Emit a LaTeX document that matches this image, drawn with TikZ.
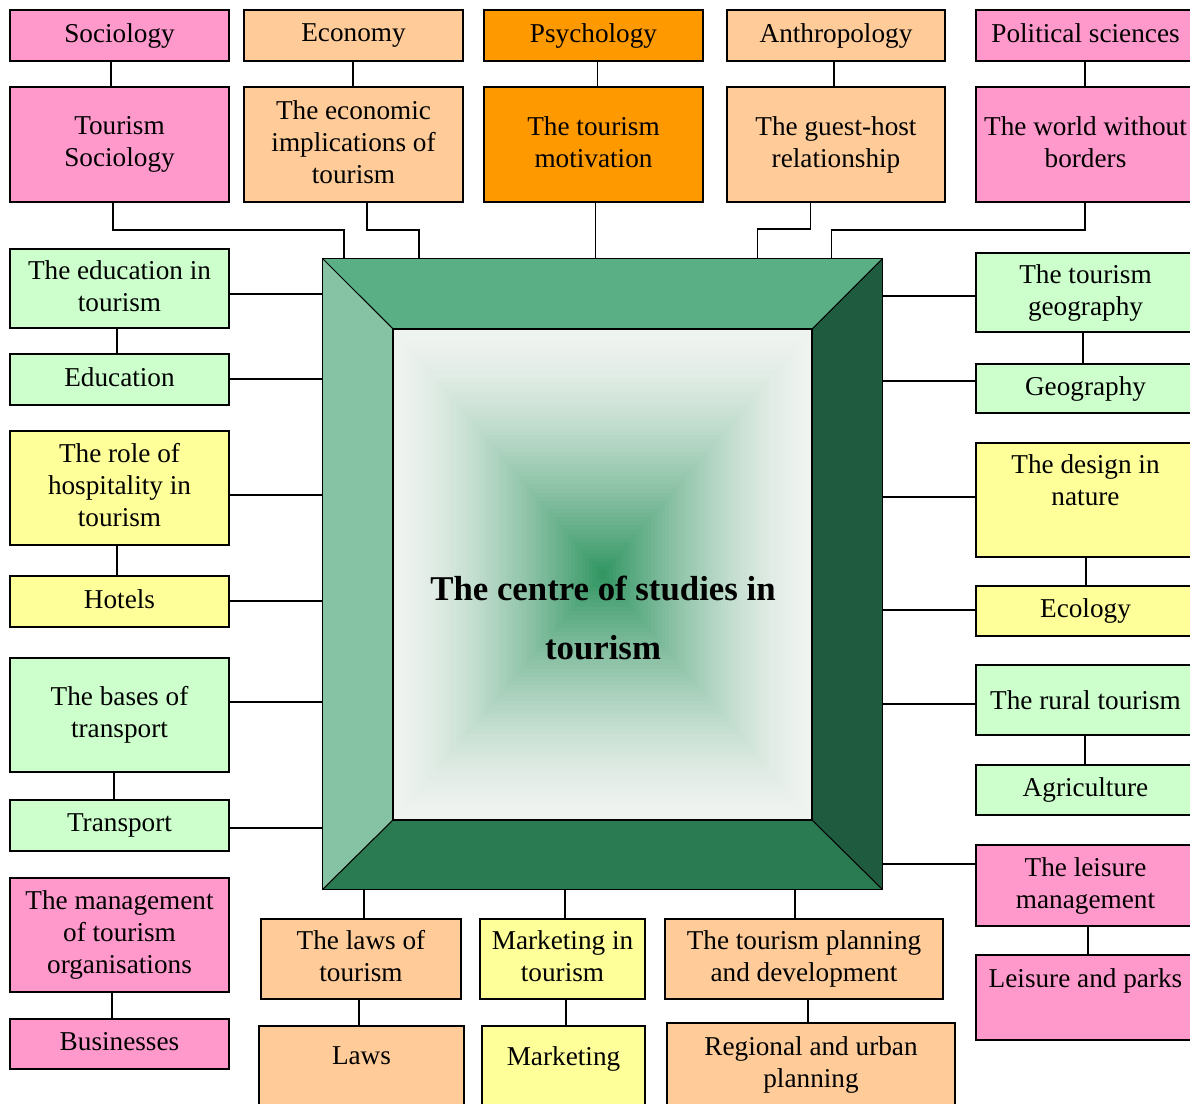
\documentclass[tikz,border=0pt]{standalone}
\usepackage{fontspec}
\setmainfont{Liberation Serif}
\usepackage{tikz}
\usetikzlibrary{positioning}
\definecolor{pinkbox}{HTML}{FF99CC}
\definecolor{peachbox}{HTML}{FFCC99}
\definecolor{orangebox}{HTML}{FF9900}
\definecolor{greenbox}{HTML}{CCFFCC}
\definecolor{yellowbox}{HTML}{FFFF99}
\definecolor{beveltop}{HTML}{5BAF85}
\definecolor{bevelleft}{HTML}{86C3A5}
\definecolor{bevelright}{HTML}{1E5B3F}
\definecolor{bevelbottom}{HTML}{2A7B52}
\definecolor{centregreen}{HTML}{2E9460}
\definecolor{edgewhite}{HTML}{EFF3F0}

\begin{document}
\begin{tikzpicture}[x=0.02cm, y=-0.02cm,
  box/.style={draw, line width=1.3pt, rectangle, inner sep=2pt, align=center, minimum width=4.38cm, text depth=0.3em, font=\fontsize{15.5}{18.2}\selectfont},
  txt/.style={align=center, font=\fontsize{15.5}{18.2}\selectfont},
  link/.style={line width=1pt},
  bevel/.style={line width=0.6pt}]
\useasboundingbox (0,0) rectangle (1190,1104);
\clip (0,0) rectangle (1190,1104);

% the centre
\node[minimum width=11.18cm, minimum height=12.6cm, inner sep=0] (frame) at (602.5,574) {};
\coordinate (inw) at (393,329);
\coordinate (ine) at (812,329);
\coordinate (ise) at (812,820);
\coordinate (isw) at (393,820);
\fill[beveltop] (frame.north west) -- (frame.north east) -- (ine) -- (inw) -- cycle;
\fill[bevelleft] (frame.north west) -- (inw) -- (isw) -- (frame.south west) -- cycle;
\fill[bevelright] (frame.north east) -- (frame.south east) -- (ise) -- (ine) -- cycle;
\fill[bevelbottom] (frame.south west) -- (isw) -- (ise) -- (frame.south east) -- cycle;
\foreach \i in {0,...,59}{
  \pgfmathsetmacro{\f}{1-\i/60}
  \pgfmathsetmacro{\g}{100*(\i/60)^1.5}
  \fill[centregreen!\g!edgewhite] (602.5-209.5*\f,574.5-245.5*\f) rectangle (602.5+209.5*\f,574.5+245.5*\f);
}
\draw[bevel] (frame.north west) rectangle (frame.south east);
\draw[bevel] (inw) rectangle (ise);
\draw[bevel] (frame.north west) -- (inw) (frame.north east) -- (ine)
  (frame.south east) -- (ise) (frame.south west) -- (isw);
\node[align=center, font=\bfseries\fontsize{19.8}{34}\selectfont] (title) at (603,618) {The centre of studies in\\tourism};

% top rows
\node[box, fill=pinkbox, minimum height=1.02cm] (soc) at (119.5,35.5) {Sociology};
\node[box, fill=peachbox, minimum height=1.02cm] (eco) at (353.5,35.5) {Economy};
\node[box, fill=orangebox, minimum height=1.02cm] (psy) at (593.5,35.5) {Psychology};
\node[box, fill=peachbox, minimum width=4.36cm, minimum height=1.02cm] (ant) at (836,35.5) {Anthropology};
\node[box, fill=pinkbox, minimum height=1.02cm] (pol) at (1085.5,35.5) {Political sciences};
\node[box, fill=pinkbox, minimum height=2.3cm] (tsoc) at (119.5,144.5) {Tourism\\Sociology};
\node[box, fill=peachbox, minimum height=2.3cm] (teco) at (353.5,144.5) {The economic\\implications of\\tourism};
\node[box, fill=orangebox, minimum height=2.3cm] (tpsy) at (593.5,144.5) {The tourism\\motivation};
\node[box, fill=peachbox, minimum width=4.36cm, minimum height=2.3cm] (tant) at (836,144.5) {The guest-host\\relationship};
\node[box, fill=pinkbox, minimum height=2.3cm] (tpol) at (1085.5,144.5) {The world without\\borders};

% left column
\node[box, fill=greenbox, minimum height=1.58cm] (tedu) at (119.5,288.5) {The education in\\tourism};
\node[box, fill=greenbox, minimum height=1.02cm] (edu) at (119.5,379.5) {Education};
\node[box, fill=yellowbox, minimum height=2.28cm] (thot) at (119.5,488) {The role of\\hospitality in\\tourism};
\node[box, fill=yellowbox, minimum height=1.02cm] (hot) at (119.5,601.5) {Hotels};
\node[box, fill=greenbox, minimum height=2.28cm] (ttra) at (119.5,715) {The bases of\\transport};
\node[box, fill=greenbox, minimum height=1.02cm] (tra) at (119.5,825.5) {Transport};
\node[box, fill=pinkbox, minimum height=2.28cm] (tman) at (119.5,935) {The management\\of tourism\\organisations};
\node[box, fill=pinkbox, minimum height=1.0cm] (bus) at (119.5,1044) {Businesses};

% right column
\node[box, fill=greenbox, minimum height=1.58cm] (tgeo) at (1085.5,292.5) {The tourism\\geography};
\node[box, fill=greenbox, minimum height=0.98cm] (geo) at (1085.5,388.5) {Geography};
\node[box, fill=yellowbox, minimum height=2.28cm] (tdes) at (1085.5,500) {};
\node[txt, below=0.14cm of tdes.north] (tdes-t) {The design in\\nature};
\node[box, fill=yellowbox, minimum height=1.0cm] (ecol) at (1085.5,611) {Ecology};
\node[box, fill=greenbox, minimum height=1.4cm, text depth=0pt] (trur) at (1085.5,700) {The rural tourism};
\node[box, fill=greenbox, minimum height=1.0cm] (agr) at (1085.5,790) {Agriculture};
\node[box, fill=pinkbox, minimum height=1.62cm] (tlei) at (1085.5,885.5) {The leisure\\management};
\node[box, fill=pinkbox, minimum height=1.7cm] (lei) at (1085.5,997.5) {};
\node[txt, below=0.17cm of lei.north] (lei-t) {Leisure and parks};

% bottom row
\node[box, fill=peachbox, minimum width=4.0cm, minimum height=1.6cm] (tlaw) at (361,959) {The laws of\\tourism};
\node[box, fill=peachbox, minimum width=4.1cm, minimum height=2.08cm] (law) at (361.5,1078) {};
\node[txt, below=0.31cm of law.north] (law-t) {Laws};
\node[box, fill=yellowbox, minimum width=3.3cm, minimum height=1.6cm] (tmar) at (562.5,959) {Marketing in\\tourism};
\node[box, fill=yellowbox, minimum width=3.26cm, minimum height=2.08cm] (mar) at (563.5,1078) {};
\node[txt, below=0.31cm of mar.north] (mar-t) {Marketing};
\node[box, fill=peachbox, minimum width=5.56cm, minimum height=1.6cm] (tpla) at (804,959) {The tourism planning\\and development};
\node[box, fill=peachbox, minimum width=5.76cm, minimum height=2.14cm] (reg) at (811,1076.5) {};
\node[txt, below=0.17cm of reg.north] (reg-t) {Regional and urban\\planning};

% links on top
\draw[link] (soc.south -| 111,0) -- (tsoc.north -| 111,0);
\draw[link] (eco.south -| 353,0) -- (teco.north -| 353,0);
\draw[link] (psy.south -| 597.5,0) -- (tpsy.north -| 597.5,0);
\draw[link] (ant.south -| 834,0) -- (tant.north -| 834,0);
\draw[link] (pol.south -| 1085,0) -- (tpol.north -| 1085,0);
\draw[link] (tsoc.south -| 113,0) |- (344,230) -- (frame.north -| 344,0);
\draw[link] (teco.south -| 367,0) |- (419,230) -- (frame.north -| 419,0);
\draw[link] (tpsy.south -| 595.5,0) -- (frame.north -| 595.5,0);
\draw[link] (tant.south -| 810.5,0) |- (757.5,229) -- (frame.north -| 757.5,0);
\draw[link] (tpol.south -| 1085,0) |- (831.5,230) -- (frame.north -| 831.5,0);

% links on the left
\draw[link] (tedu.south -| 117,0) -- (edu.north -| 117,0);
\draw[link] (thot.south -| 117,0) -- (hot.north -| 117,0);
\draw[link] (ttra.south -| 114,0) -- (tra.north -| 114,0);
\draw[link] (tman.south -| 112,0) -- (bus.north -| 112,0);
\draw[link] (tedu.east |- 0,294) -- (frame.west |- 0,294);
\draw[link] (edu.east |- 0,379) -- (frame.west |- 0,379);
\draw[link] (thot.east |- 0,495) -- (frame.west |- 0,495);
\draw[link] (hot.east |- 0,601) -- (frame.west |- 0,601);
\draw[link] (ttra.east |- 0,702) -- (frame.west |- 0,702);
\draw[link] (tra.east |- 0,828) -- (frame.west |- 0,828);

% links on the right
\draw[link] (tgeo.south -| 1083,0) -- (geo.north -| 1083,0);
\draw[link] (tdes.south -| 1086,0) -- (ecol.north -| 1086,0);
\draw[link] (trur.south -| 1085,0) -- (agr.north -| 1085,0);
\draw[link] (tlei.south -| 1088,0) -- (lei.north -| 1088,0);
\draw[link] (frame.east |- 0,296) -- (tgeo.west |- 0,296);
\draw[link] (frame.east |- 0,381) -- (geo.west |- 0,381);
\draw[link] (frame.east |- 0,497) -- (tdes.west |- 0,497);
\draw[link] (frame.east |- 0,610) -- (ecol.west |- 0,610);
\draw[link] (frame.east |- 0,704) -- (trur.west |- 0,704);
\draw[link] (frame.east |- 0,864) -- (tlei.west |- 0,864);

% links at the bottom
\draw[link] (frame.south -| 364,0) -- (tlaw.north -| 364,0);
\draw[link] (tlaw.south -| 359,0) -- (law.north -| 359,0);
\draw[link] (frame.south -| 565,0) -- (tmar.north -| 565,0);
\draw[link] (tmar.south -| 566,0) -- (mar.north -| 566,0);
\draw[link] (frame.south -| 795,0) -- (tpla.north -| 795,0);
\draw[link] (tpla.south -| 808,0) -- (reg.north -| 808,0);
\end{tikzpicture}
\end{document}
